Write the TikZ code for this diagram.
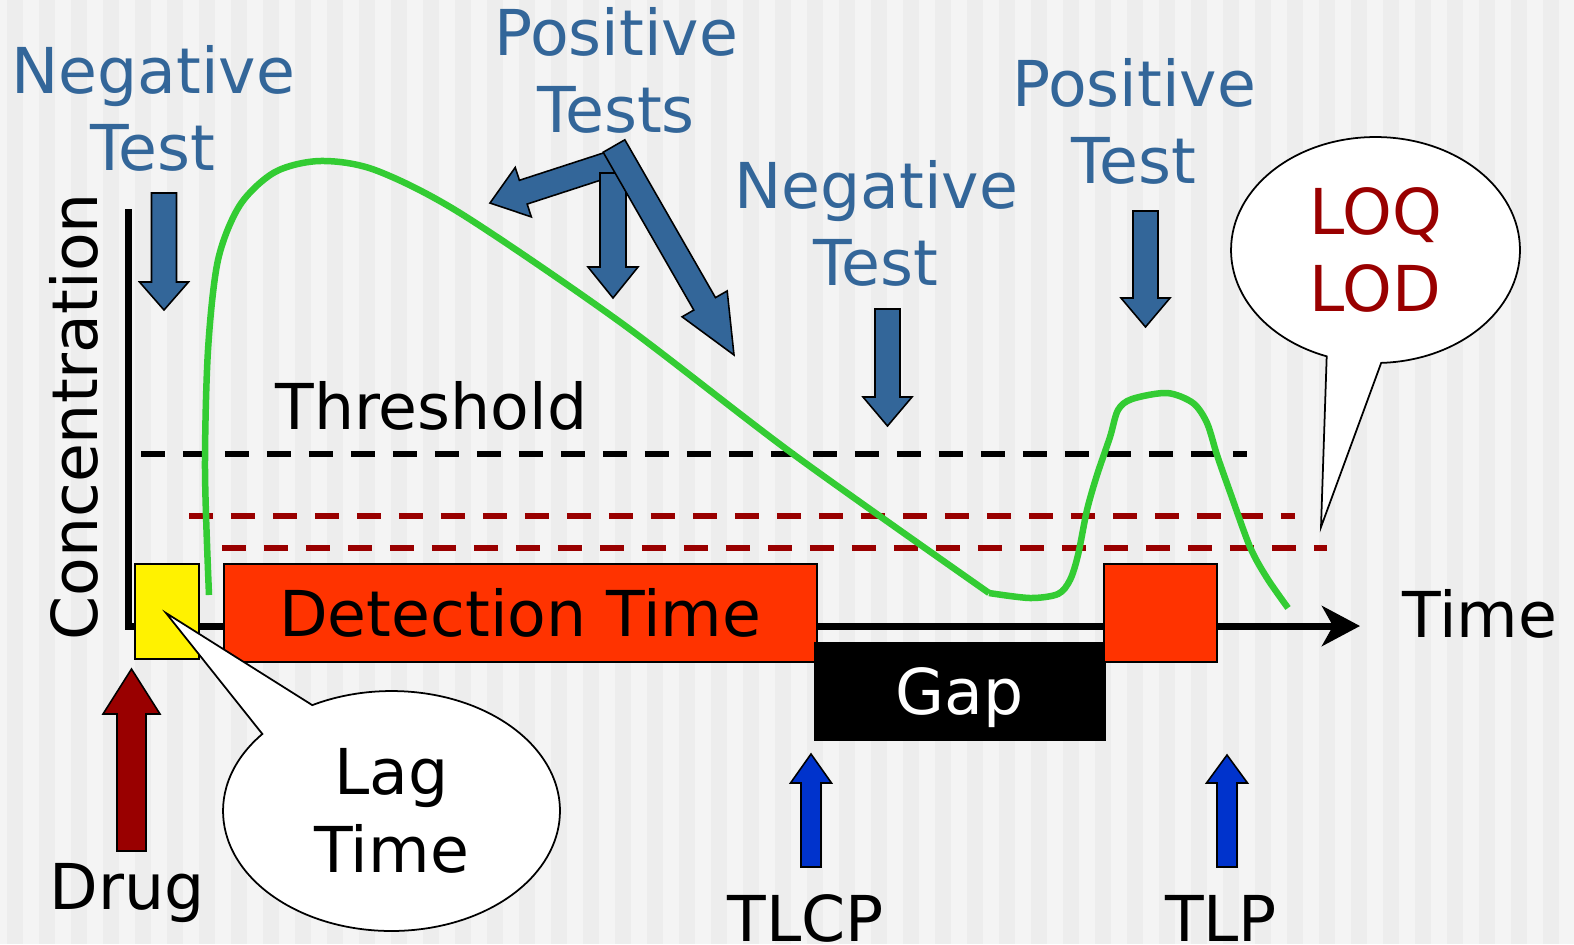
\documentclass[tikz,border=0pt]{standalone}
\usepackage{fontspec}
\setmainfont{DejaVu Sans}
\usetikzlibrary{calc,arrows.meta,shapes.callouts}
\tikzset{>={Stealth[length=0.76cm,width=0.8cm,inset=0.22cm]}}
\definecolor{testblue}{HTML}{336699}
\definecolor{markblue}{HTML}{0033CC}
\definecolor{darkred}{HTML}{990000}
\definecolor{detorange}{HTML}{FF3300}
\definecolor{curvegreen}{HTML}{33CC33}
\definecolor{stripe}{HTML}{EDEDED}
\definecolor{paper}{HTML}{F4F4F4}
\tikzset{
  testlabel/.style={font=\fontsize{36}{44}\selectfont, align=center, inner sep=0pt},
  timebox/.style={draw=black, line width=1pt, inner sep=0pt, anchor=north west,
    text depth=0pt, font=\fontsize{36}{44}\selectfont},
  levelline/.style={line width=0.12cm, dash pattern=on 0.48cm off 0.36cm},
  bubble/.style={ellipse callout, draw=black, line width=1pt, fill=white, inner sep=0pt,
    callout pointer arc=22, align=center, font=\fontsize{36}{44}\selectfont}
}
% fill, from, to, half shaft, half head, head length
\newcommand*{\blockarrow}[6]
  {\coordinate (bh) at ($(#3)!#6!(#2)$);
   \filldraw[fill=#1, draw=black, line width=0.9pt]
     ($(#2)!#4!90:(#3)$) -- ($(bh)!#4!90:(#3)$) -- ($(bh)!#5!90:(#3)$) -- (#3)
     -- ($(bh)!#5!-90:(#3)$) -- ($(bh)!#4!-90:(#3)$) -- ($(#2)!#4!-90:(#3)$) -- cycle}

\begin{document}
\begin{tikzpicture}[x=0.02cm,y=-0.02cm]
\useasboundingbox (0,0) rectangle (1574,944);
\fill[paper] (0,0) rectangle (1574,944);
\foreach \sx in {7,39,...,1543}
  \fill[stripe] (\sx,0) rectangle ++(16,944);

% axes
\coordinate (O) at (128,626);
\coordinate (ytop) at (128,209);
\coordinate (tend) at (1360,626);
\draw[line width=0.14cm, ->] (ytop) -- (O) -- (tend);

% threshold, LOQ and LOD levels
\foreach \lcol/\ly/\lx/\lxx in {black/454/141/1247,darkred/516/189/1295,darkred/548/222/1327}
  \draw[levelline, \lcol] (\lx,\ly) -- (\lxx,\ly);

% concentration curve
\coordinate (low) at (989,593);
\draw[curvegreen, line width=0.13cm] plot[smooth, tension=0.5] coordinates {
  (209,595) (205,470) (208,350) (218,260) (240,205) (275,172) (320,161) (375,170)
  (460,213) (620,322) (793,454) (low)};
\draw[curvegreen, line width=0.13cm] plot[smooth, tension=0.5] coordinates {
  (low) (1030,598) (1058,594) (1070,580) (1078,555) (1087,510) (1097,475) (1110,437)
  (1118,410) (1132,399) (1167,393) (1193,403) (1207,423) (1217,455) (1230,492)
  (1250,547) (1267,578) (1288,608)};

% windows on the time axis
\node[timebox, fill=yellow, minimum width=1.28cm, minimum height=1.9cm] (lagbox) at (134,563) {};
\node[timebox, fill=detorange, minimum width=11.86cm, minimum height=1.96cm] (detect) at (223,563) {Detection Time};
\node[timebox, fill=black, text=white, minimum width=5.8cm, minimum height=1.94cm] (gap) at (814,642) {Gap};
\node[timebox, fill=detorange, minimum width=2.26cm, minimum height=1.96cm] (detect2) at (1103,563) {};

% test arrows
\foreach \aname/\acol/\ax/\ay/\ayy/\as/\at/\ah in {
    neg1/testblue/164/193/310/0.25/0.49/0.56,
    neg2/testblue/887.5/309/426/0.25/0.49/0.58,
    pos2/testblue/1145.5/211/327/0.25/0.49/0.58,
    drug/darkred/131.5/851/669/0.29/0.57/0.9,
    tlcp/markblue/811/867/754/0.2/0.41/0.58,
    tlp/markblue/1227/867/755/0.2/0.41/0.56} {
  \coordinate (\aname-s) at (\ax,\ay);
  \coordinate (\aname-e) at (\ax,\ayy);
  \blockarrow{\acol}{\aname-s}{\aname-e}{\as cm}{\at cm}{\ah cm};
}
\coordinate (posl-s) at (616,162);
\coordinate (posl-e) at (490,203);
\coordinate (posv-s) at (613,173);
\coordinate (posv-e) at (613,298);
\coordinate (posr-s) at (614,146);
\coordinate (posr-e) at (734,355);
\blockarrow{testblue}{posl-s}{posl-e}{0.25cm}{0.52cm}{0.7cm};
\blockarrow{testblue}{posv-s}{posv-e}{0.26cm}{0.5cm}{0.62cm};
\blockarrow{testblue}{posr-s}{posr-e}{0.25cm}{0.52cm}{1.18cm};

% labels
\node[testlabel, testblue, anchor=south] (neg1-t) at (153,172) {Negative\\Test};
\node[testlabel, testblue, anchor=south] (pos1-t) at (616,134) {Positive\\Tests};
\node[testlabel, testblue, anchor=south] (neg2-t) at (876,287) {Negative\\Test};
\node[testlabel, testblue, anchor=south] (pos2-t) at (1134,185) {Positive\\Test};
\node[testlabel, anchor=base west] (thr-t) at (275,429) {Threshold};
\node[testlabel, rotate=90, anchor=base west] (conc-t) at (97,641) {Concentration};
\node[testlabel, anchor=base west] (time-t) at (1402,637) {Time};
\node[testlabel, anchor=base] (drug-t) at (127,909) {Drug};
\node[testlabel, anchor=base] (tlcp-t) at (806,941) {TLCP};
\node[testlabel, anchor=base] (tlp-t) at (1221,941) {TLP};

% call-outs
\coordinate (lagtip) at (166,613);
\coordinate (limtip) at (1321,527);
\node[bubble, minimum width=6.74cm, minimum height=4.8cm,
  callout absolute pointer={(lagtip)}] (lag) at (391.5,811) {Lag\\Time};
\node[bubble, text=darkred, minimum width=5.78cm, minimum height=4.52cm,
  callout absolute pointer={(limtip)}] (limits) at (1375.5,250) {LOQ\\LOD};
\end{tikzpicture}
\end{document}
